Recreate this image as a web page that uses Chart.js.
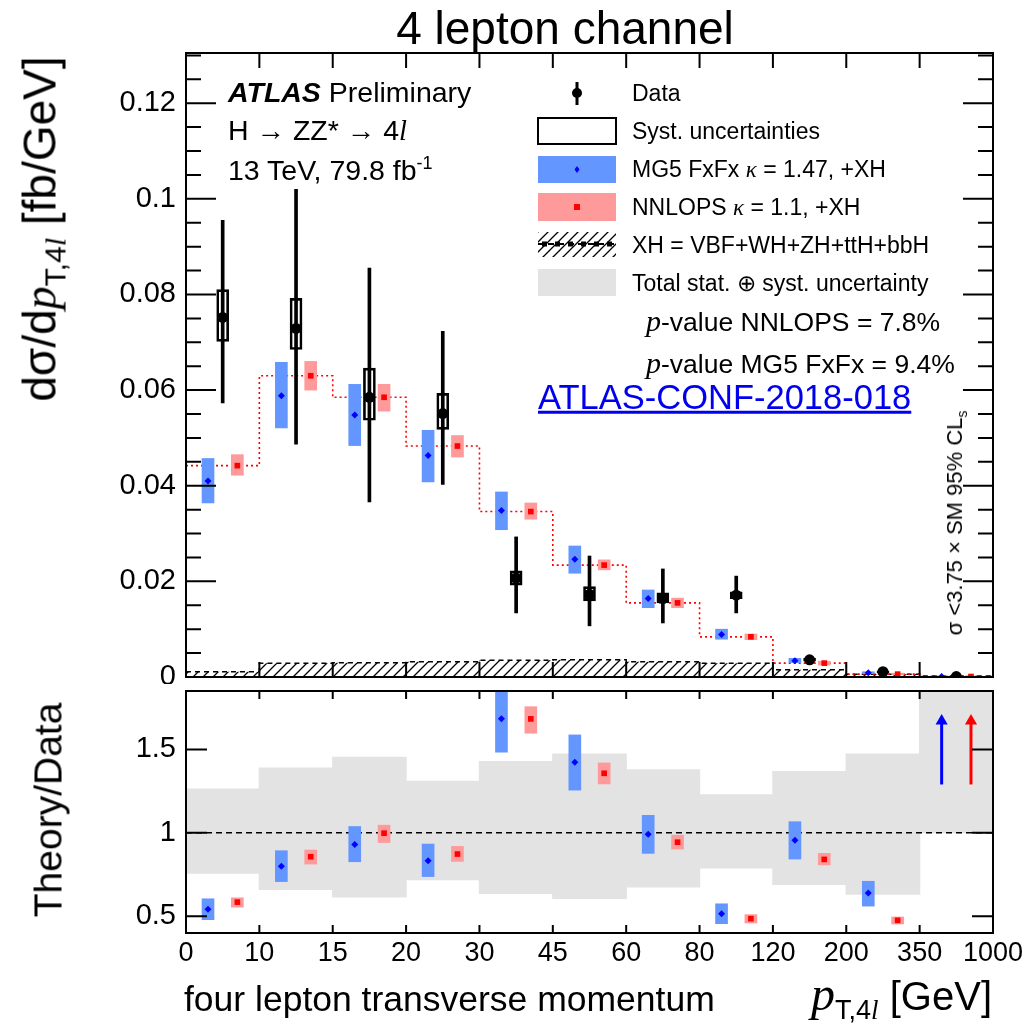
<!DOCTYPE html>
<html>
<head>
<meta charset="utf-8">
<title>4 lepton channel</title>
<script src="https://cdn.jsdelivr.net/npm/chart.js@4.4.1/dist/chart.umd.min.js"></script>
<style>
  body { margin: 0; background: #fff; width: 1025px; height: 1034px; position: relative; overflow: hidden;
         font-family: "Liberation Sans", Arial, Helvetica, sans-serif; color: #000; }
  canvas { position: absolute; left: 0; }
  #topChart { top: 0; }
  #ratioChart { top: 684px; }
  .c { position: absolute; transform: translate(-50%, -50%); white-space: nowrap; line-height: 1; }
  .l { position: absolute; transform: translateY(-50%); white-space: nowrap; line-height: 1; }
  .v { position: absolute; transform: translate(-50%, -50%) rotate(-90deg); white-space: nowrap; line-height: 1; }
  .s { font-family: "Liberation Serif", "DejaVu Serif", serif; font-style: italic; }
  sub, sup { line-height: 0; }
</style>
</head>
<body>
<canvas id="topChart" width="1025" height="684"></canvas>
<canvas id="ratioChart" width="1025" height="350"></canvas>

<div class="c" style="left:565px;top:28px;font-size:46px">4 lepton channel</div>

<div class="l" style="left:228px;top:92px;font-size:28.5px"><b><i>ATLAS</i></b> Preliminary</div>
<div class="l" style="left:228px;top:131px;font-size:28.5px">H &rarr; ZZ* &rarr; 4<span class="s">l</span></div>
<div class="l" style="left:228px;top:170px;font-size:28.5px">13 TeV, 79.8 fb<sup style="font-size:18px">-1</sup></div>

<div class="l" style="left:632px;top:93px;font-size:23px">Data</div>
<div class="l" style="left:632px;top:131px;font-size:23px">Syst. uncertainties</div>
<div class="l" style="left:632px;top:169px;font-size:23px">MG5 FxFx <span class="s">&kappa;</span> = 1.47, +XH</div>
<div class="l" style="left:632px;top:207px;font-size:23px">NNLOPS <span class="s">&kappa;</span> = 1.1, +XH</div>
<div class="l" style="left:632px;top:245px;font-size:23px">XH = VBF+WH+ZH+ttH+bbH</div>
<div class="l" style="left:632px;top:283px;font-size:23px">Total stat. &oplus; syst. uncertainty</div>

<div class="l" style="left:646px;top:321px;font-size:26.5px"><span class="s" style="font-size:30px">p</span>-value NNLOPS = 7.8%</div>
<div class="l" style="left:646px;top:363px;font-size:26.5px"><span class="s" style="font-size:30px">p</span>-value MG5 FxFx = 9.4%</div>
<div class="l" style="left:538px;top:397px;font-size:34.5px;color:#0000ee;text-decoration:underline">ATLAS-CONF-2018-018</div>

<div class="v" style="left:955px;top:523px;font-size:22px">&sigma; &lt;3.75 &times; SM 95% CL<sub style="font-size:14px">s</sub></div>

<div class="v" style="left:40px;top:229px;font-size:46px">d&sigma;/d<span class="s">p</span><sub style="font-size:30px">T,4<span class="s">l</span></sub> [fb/GeV]</div>
<div class="v" style="left:48px;top:810px;font-size:39px">Theory/Data</div>

<div class="l" style="left:184px;top:1000px;font-size:35.5px">four lepton transverse momentum</div>
<div class="l" style="right:33px;top:994px;font-size:40px"><span class="s" style="font-size:48px">p</span><sub style="font-size:27px">T,4<span class="s">l</span></sub> [GeV]</div>

<script>
// bin edges of pT,4l [GeV]; bins are drawn with equal width
var binEdges = ["0", "10", "15", "20", "30", "45", "60", "80", "120", "200", "350", "1000"];
var yTicksTop = [0, 0.02, 0.04, 0.06, 0.08, 0.1, 0.12];
var yTicksRatio = [0.5, 1, 1.5];

// measured cross section [fb/GeV]
var dataCentral = [0.0752, 0.0729, 0.0585, 0.0551, 0.0207, 0.0173, 0.0165, 0.0171, 0.0036, 0.0011, 0.0001];
var dataErrLow  = [0.0573, 0.0487, 0.0366, 0.0403, 0.0134, 0.0107, 0.0113, 0.0134, 0.0029, 0.0006, 0.0000];
var dataErrHigh = [0.0955, 0.1020, 0.0855, 0.0723, 0.0293, 0.0253, 0.0226, 0.0211, 0.0043, 0.0016, 0.0003];
var systLow     = [0.0702, 0.0685, 0.0537, 0.0518, 0.0192, 0.0159, 0.0155, 0.0164, 0.0033, 0.0009, 0.0000];
var systHigh    = [0.0810, 0.0792, 0.0646, 0.0593, 0.0222, 0.0189, 0.0176, 0.0178, 0.0039, 0.0013, 0.0002];

// MG5 FxFx prediction
var mgCentral = [0.0410, 0.0588, 0.0548, 0.0463, 0.0348, 0.0246, 0.0164, 0.0089, 0.0034, 0.0009, 0.0001];
var mgLow     = [0.0364, 0.0521, 0.0484, 0.0408, 0.0308, 0.0217, 0.0145, 0.0079, 0.0030, 0.0007, 0.0000];
var mgHigh    = [0.0457, 0.0658, 0.0612, 0.0516, 0.0387, 0.0274, 0.0182, 0.0100, 0.0039, 0.0011, 0.0002];

// NNLOPS prediction
var nnCentral = [0.0442, 0.0630, 0.0585, 0.0483, 0.0346, 0.0234, 0.0155, 0.0084, 0.0029, 0.0006, 0.0001];
var nnLow     = [0.0422, 0.0600, 0.0556, 0.0460, 0.0330, 0.0224, 0.0145, 0.0078, 0.0025, 0.0005, 0.0000];
var nnHigh    = [0.0465, 0.0660, 0.0612, 0.0505, 0.0364, 0.0245, 0.0165, 0.0090, 0.0033, 0.0008, 0.0002];

// XH = VBF+WH+ZH+ttH+bbH contribution
var xhValues = [0.0011, 0.0029, 0.0030, 0.0032, 0.0035, 0.0036, 0.0032, 0.0029, 0.0015, 0.0006, 0.0002];

// ratio panel: total uncertainty band and theory/data
var totalLow  = [0.757, 0.659, 0.615, 0.718, 0.635, 0.605, 0.674, 0.788, 0.690, 0.631, 1.000];
var totalHigh = [1.264, 1.389, 1.454, 1.310, 1.429, 1.474, 1.379, 1.230, 1.369, 1.474, 2.000];
var mgRatio     = [0.542, 0.800, 0.930, 0.833, 1.683, 1.423, 0.992, 0.516, 0.956, 0.639];
var mgRatioLow  = [0.480, 0.708, 0.827, 0.738, 1.484, 1.256, 0.877, 0.456, 0.843, 0.561];
var mgRatioHigh = [0.605, 0.893, 1.038, 0.933, 1.880, 1.587, 1.105, 0.575, 1.067, 0.710];
var nnRatio     = [0.585, 0.857, 0.998, 0.873, 1.683, 1.357, 0.944, 0.486, 0.841, 0.476];
var nnRatioLow  = [0.555, 0.813, 0.942, 0.829, 1.597, 1.293, 0.903, 0.460, 0.808, 0.454];
var nnRatioHigh = [0.611, 0.897, 1.046, 0.919, 1.756, 1.419, 0.986, 0.510, 0.877, 0.496];
// last bin: ratio off scale, shown as arrows
var offScaleArrow = [1.29, 1.67];

var BLUE_BAND = "#6496ff", RED_BAND = "#ff9a9a", GREY_BAND = "#e3e3e3";
var FONT = "'Liberation Sans', Arial, sans-serif";

// marker offsets inside each bin
var MG_POS = 0.3, DATA_POS = 0.5, NN_POS = 0.7;

function points(vals, off) {
  return vals.map(function(v, i) { return {x: i + off, y: v}; });
}
function ranges(lo, hi, off) {
  return lo.map(function(v, i) { return {x: i + off, y: [v, hi[i]]}; });
}
function steps(vals) {
  var pts = vals.map(function(v, i) { return {x: i, y: v}; });
  pts.push({x: vals.length, y: vals[vals.length - 1]});
  return pts;
}
function tickText(v) {
  return String(Math.round(v * 1000) / 1000);
}

function hatchPattern() {
  var c = document.createElement("canvas");
  c.width = 10; c.height = 10;
  var g = c.getContext("2d");
  g.strokeStyle = "#000";
  g.lineWidth = 1.3;
  g.beginPath();
  g.moveTo(0, 10); g.lineTo(10, 0);
  g.moveTo(-2, 2); g.lineTo(2, -2);
  g.moveTo(8, 12); g.lineTo(12, 8);
  g.stroke();
  return g.createPattern(c, "repeat");
}
var hatch = hatchPattern();

// ROOT-like frame with inward ticks on all four sides
var frameTicks = {
  id: "frameTicks",
  afterDatasetsDraw: function(chart, args, o) {
    var a = chart.chartArea, ctx = chart.ctx, xs = chart.scales.x, ys = chart.scales.y;
    ctx.save();
    ctx.strokeStyle = "#000";
    ctx.lineWidth = 2;
    ctx.strokeRect(a.left, a.top, a.right - a.left, a.bottom - a.top);
    ctx.beginPath();
    for (var i = 1; i < binEdges.length - 1; i++) {
      var px = xs.getPixelForValue(i);
      ctx.moveTo(px, a.bottom); ctx.lineTo(px, a.bottom - o.xLen);
      ctx.moveTo(px, a.top); ctx.lineTo(px, a.top + o.xLen);
    }
    o.major.forEach(function(v) {
      var py = ys.getPixelForValue(v);
      ctx.moveTo(a.left, py); ctx.lineTo(a.left + o.majorLen, py);
      ctx.moveTo(a.right, py); ctx.lineTo(a.right - o.majorLen, py);
    });
    o.minor.forEach(function(v) {
      var py = ys.getPixelForValue(v);
      ctx.moveTo(a.left, py); ctx.lineTo(a.left + o.minorLen, py);
      ctx.moveTo(a.right, py); ctx.lineTo(a.right - o.minorLen, py);
    });
    ctx.stroke();
    ctx.restore();
  }
};

// legend symbols, the labels are html text next to them
var legendSymbols = {
  id: "legendSymbols",
  afterDraw: function(chart) {
    var ctx = chart.ctx, x0 = 538, w = 78, cx = 577;
    ctx.save();
    // data marker
    ctx.fillStyle = "#000"; ctx.strokeStyle = "#000";
    ctx.lineWidth = 3;
    ctx.beginPath(); ctx.moveTo(cx, 82); ctx.lineTo(cx, 105); ctx.stroke();
    ctx.beginPath(); ctx.arc(cx, 93, 5, 0, Math.PI * 2); ctx.fill();
    // syst box
    ctx.lineWidth = 2;
    ctx.strokeRect(x0, 118, w, 26);
    // MG5
    ctx.fillStyle = BLUE_BAND; ctx.fillRect(x0, 156, w, 27);
    ctx.fillStyle = "#0000ff";
    ctx.beginPath(); ctx.moveTo(cx, 166); ctx.lineTo(cx + 2.5, 169.5); ctx.lineTo(cx, 173); ctx.lineTo(cx - 2.5, 169.5); ctx.fill();
    // NNLOPS
    ctx.fillStyle = RED_BAND; ctx.fillRect(x0, 193, w, 28);
    ctx.fillStyle = "#ff0000"; ctx.fillRect(cx - 3, 204, 6, 6);
    // XH
    ctx.fillStyle = hatch; ctx.fillRect(x0, 232, w, 25);
    ctx.setLineDash([6, 4]); ctx.lineWidth = 2;
    ctx.beginPath(); ctx.moveTo(x0, 244); ctx.lineTo(x0 + w, 244); ctx.stroke();
    ctx.setLineDash([]);
    ctx.fillStyle = "#000";
    for (var k = 0; k < 6; k++) ctx.fillRect(x0 + 4 + k * 13, 241.5, 5, 5);
    // total uncertainty
    ctx.fillStyle = GREY_BAND; ctx.fillRect(x0, 269, w, 27);
    ctx.restore();
  }
};

var common = {
  responsive: false,
  animation: false,
  events: [],
  devicePixelRatio: 1
};

function bandSet(lo, hi, off, color, order, thick) {
  return { type: "bar", data: ranges(lo, hi, off), backgroundColor: color, borderWidth: 0,
           barThickness: thick || 12, grouped: false, order: order };
}
function markerSet(vals, off, color, style, r, order) {
  return { type: "line", data: points(vals, off), showLine: false, pointStyle: style,
           pointRadius: r, pointBackgroundColor: color, pointBorderWidth: 0, order: order };
}

new Chart(document.getElementById("topChart"), {
  type: "bar",
  data: {
    datasets: [
      { type: "line", data: steps(xhValues), stepped: "before", fill: "origin", backgroundColor: hatch,
        borderColor: "#000", borderWidth: 1.5, borderDash: [5, 4], pointRadius: 0, order: 10 },
      { type: "line", data: steps(nnCentral), stepped: "before", fill: false,
        borderColor: "#ff0000", borderWidth: 1.6, borderDash: [2, 3], pointRadius: 0, order: 9 },
      bandSet(mgLow, mgHigh, MG_POS, BLUE_BAND, 8),
      bandSet(nnLow, nnHigh, NN_POS, RED_BAND, 7),
      markerSet(mgCentral, MG_POS, "#0000ff", "rectRot", 3.5, 6),
      markerSet(nnCentral, NN_POS, "#ff0000", "rect", 4, 5),
      { type: "bar", data: ranges(systLow, systHigh, DATA_POS), backgroundColor: "rgba(255,255,255,0)",
        borderColor: "#000", borderWidth: 2, borderSkipped: false, barThickness: 12, grouped: false, order: 4 },
      bandSet(dataErrLow, dataErrHigh, DATA_POS, "#000", 3, 3),
      markerSet(dataCentral, DATA_POS, "#000", "circle", 5.5, 2)
    ]
  },
  options: Object.assign({}, common, {
    layout: { padding: { left: 0, right: 32, top: 53, bottom: 7 } },
    plugins: {
      legend: { display: false },
      tooltip: { enabled: false },
      frameTicks: {
        xLen: 15, majorLen: 30, minorLen: 15,
        major: yTicksTop,
        minor: [0.005, 0.01, 0.015, 0.025, 0.03, 0.035, 0.045, 0.05, 0.055, 0.065, 0.07, 0.075,
                0.085, 0.09, 0.095, 0.105, 0.11, 0.115, 0.125, 0.13]
      }
    },
    scales: {
      x: { type: "linear", min: 0, max: 11, offset: false, display: false },
      y: {
        min: 0, max: 0.1305,
        grid: { display: false, drawTicks: false },
        border: { display: false },
        afterBuildTicks: function(s) { s.ticks = yTicksTop.map(function(v) { return {value: v}; }); },
        afterFit: function(s) { s.width = 186; s.paddingTop = 0; s.paddingBottom = 0; },
        ticks: { color: "#000", padding: 10, font: { family: FONT, size: 29 }, callback: tickText }
      }
    }
  }),
  plugins: [frameTicks, legendSymbols]
});

new Chart(document.getElementById("ratioChart"), {
  type: "bar",
  data: {
    datasets: [
      bandSet(totalLow, totalHigh, DATA_POS, GREY_BAND, 10, 74),
      { type: "line", data: [{x: 0, y: 1}, {x: binEdges.length - 1, y: 1}], borderColor: "#000",
        borderWidth: 1.5, borderDash: [6, 4], pointRadius: 0, order: 9 },
      bandSet(mgRatioLow, mgRatioHigh, MG_POS, BLUE_BAND, 8),
      bandSet(nnRatioLow, nnRatioHigh, NN_POS, RED_BAND, 7),
      markerSet(mgRatio, MG_POS, "#0000ff", "rectRot", 3.5, 6),
      markerSet(nnRatio, NN_POS, "#ff0000", "rect", 4, 5),
      { type: "line", data: offScaleArrow.map(function(v) { return {x: 10 + MG_POS, y: v}; }),
        borderColor: "#0000ff", borderWidth: 3, pointStyle: "triangle", pointRadius: [0, 7],
        pointBackgroundColor: "#0000ff", pointBorderWidth: 0, order: 4 },
      { type: "line", data: offScaleArrow.map(function(v) { return {x: 10 + NN_POS, y: v}; }),
        borderColor: "#ff0000", borderWidth: 3, pointStyle: "triangle", pointRadius: [0, 7],
        pointBackgroundColor: "#ff0000", pointBorderWidth: 0, order: 3 }
    ]
  },
  options: Object.assign({}, common, {
    layout: { padding: { left: 0, right: 32, top: 6, bottom: 0 } },
    plugins: {
      legend: { display: false },
      tooltip: { enabled: false },
      frameTicks: { xLen: 8, majorLen: 21, minorLen: 0, major: yTicksRatio, minor: [] }
    },
    scales: {
      x: {
        type: "linear", min: 0, max: 11, offset: false,
        grid: { display: false, drawTicks: false },
        border: { display: false },
        afterBuildTicks: function(s) { s.ticks = binEdges.map(function(e, i) { return {value: i}; }); },
        afterFit: function(s) { s.height = 101; s.paddingLeft = 0; s.paddingRight = 0; },
        ticks: { color: "#000", padding: 4, maxRotation: 0, autoSkip: false, font: { family: FONT, size: 27 },
                 callback: function(v, i) { return binEdges[i]; } }
      },
      y: {
        min: 0.4, max: 1.85,
        grid: { display: false, drawTicks: false },
        border: { display: false },
        afterBuildTicks: function(s) { s.ticks = yTicksRatio.map(function(v) { return {value: v}; }); },
        afterFit: function(s) { s.width = 186; s.paddingTop = 0; s.paddingBottom = 0; },
        ticks: { color: "#000", padding: 10, font: { family: FONT, size: 29 }, callback: tickText }
      }
    }
  }),
  plugins: [frameTicks]
});
</script>
</body>
</html>
